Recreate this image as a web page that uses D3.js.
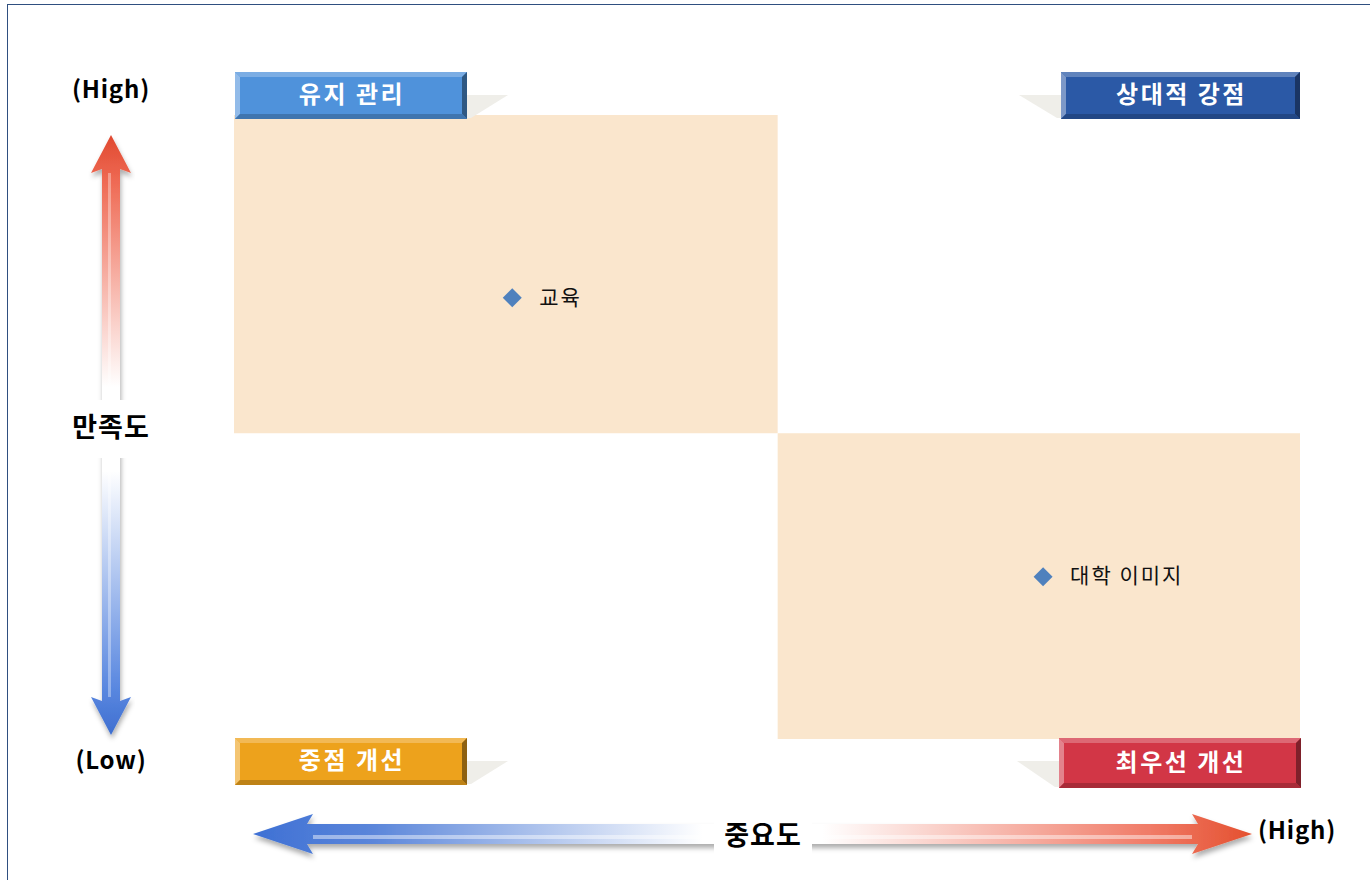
<!DOCTYPE html>
<html><head><meta charset="utf-8">
<script src="https://cdn.jsdelivr.net/npm/d3@7"></script>
<style>
html,body{margin:0;padding:0;background:#fff;}
svg{display:block;font-family:"Noto Sans CJK KR","Noto Sans",sans-serif;}
</style></head>
<body><svg id="c" width="1370" height="880"></svg>
<script>
// ---- data ----
const items = ["교육", "대학 이미지"];
const importance = [3.761, 4.259];     // x: 중요도
const satisfaction = [4.207, 3.760];   // y: 만족도
const xDomain = [3.5, 4.5];
const yDomain = [3.5, 4.5];
const xMid = 4.01, yMid = 3.99;
const quadrantNames = ["유지 관리", "상대적 강점", "중점 개선", "최우선 개선"];
const quadrantColors = ["#4F92DB", "#2B59A6", "#EDA21C", "#D23646"];
const axisTitles = {x: "중요도", y: "만족도", high: "(High)", low: "(Low)"};

const svg = d3.select("#c");
const defs = svg.append("defs");
const W = 1370, H = 880;
const plot = {l: 234, r: 1300, t: 115, b: 739};
const x = d3.scaleLinear().domain(xDomain).range([plot.l, plot.r]);
const y = d3.scaleLinear().domain(yDomain).range([plot.b, plot.t]);

// frame
svg.append("rect").attr("x", 7.5).attr("y", 4.5).attr("width", W + 10).attr("height", H + 10)
  .attr("fill", "none").attr("stroke", "#2F4F80").attr("stroke-width", 1);

// quadrant fills
const fill = "#FAE6CD";
svg.append("rect").attr("x", x(xDomain[0])).attr("y", y(yDomain[1]))
  .attr("width", x(xMid) - x(xDomain[0])).attr("height", y(yMid) - y(yDomain[1])).attr("fill", fill);
svg.append("rect").attr("x", x(xMid)).attr("y", y(yMid))
  .attr("width", x(xDomain[1]) - x(xMid)).attr("height", y(yDomain[0]) - y(yMid)).attr("fill", fill);

// quadrant label boxes (beveled)
function shade(c, k) { return k > 0 ? d3.interpolateRgb(c, "#fff")(k) : d3.interpolateRgb(c, "#000")(-k); }
const boxes = [
  {x0: 235, y0: 72, w: 232, h: 47, side: "right"},
  {x0: 1061, y0: 72, w: 239, h: 47, side: "left"},
  {x0: 235, y0: 738, w: 232, h: 47, side: "right"},
  {x0: 1059, y0: 738, w: 242, h: 50, side: "left"}
];
boxes.forEach((b, i) => {
  const g = svg.append("g");
  const c = quadrantColors[i];
  const sy = b.y0 + 23;
  let pts;
  if (b.side === "right") pts = [[b.x0 + b.w, sy], [b.x0 + b.w + 41, sy], [b.x0 + b.w + 4, b.y0 + b.h - 1], [b.x0 + b.w, b.y0 + b.h - 1]];
  else pts = [[b.x0 - 42, sy], [b.x0, sy], [b.x0, b.y0 + b.h - 1], [b.x0 - 4, b.y0 + b.h - 1]];
  g.append("polygon").attr("points", pts.map(p => p.join(",")).join(" ")).attr("fill", "#EFEEE9");
  const d = 5;
  const X0 = b.x0, Y0 = b.y0, X1 = b.x0 + b.w, Y1 = b.y0 + b.h;
  g.append("rect").attr("x", X0).attr("y", Y0).attr("width", b.w).attr("height", b.h).attr("fill", c);
  const poly = (p, col) => g.append("polygon").attr("points", p.map(q => q.join(",")).join(" ")).attr("fill", col);
  poly([[X0, Y0], [X1, Y0], [X1 - d, Y0 + d], [X0 + d, Y0 + d]], shade(c, 0.25));
  poly([[X0, Y0], [X0 + d, Y0 + d], [X0 + d, Y1 - d], [X0, Y1]], shade(c, 0.38));
  poly([[X1, Y0], [X1, Y1], [X1 - d, Y1 - d], [X1 - d, Y0 + d]], shade(c, -0.4));
  poly([[X0, Y1], [X1, Y1], [X1 - d, Y1 - d], [X0 + d, Y1 - d]], shade(c, -0.2));
  g.append("text").attr("x", X0 + b.w / 2 + 1).attr("y", Y0 + b.h / 2 + 1).attr("text-anchor", "middle")
    .attr("dominant-baseline", "middle").attr("fill", "#fff").attr("font-size", 24).attr("font-weight", 700)
    .attr("letter-spacing", 2.5).text(quadrantNames[i]);
});

// gradients
const vg = defs.append("linearGradient").attr("id", "vg").attr("gradientUnits", "userSpaceOnUse")
  .attr("x1", 0).attr("y1", 135).attr("x2", 0).attr("y2", 735);
[[0, "#E0482F"], [0.08, "#EF6B55"], [0.42, "#FFFFFF"], [0.56, "#FFFFFF"], [0.92, "#5A88E0"], [1, "#3F6FD0"]]
  .forEach(s => vg.append("stop").attr("offset", s[0]).attr("stop-color", s[1]));
const hg = defs.append("linearGradient").attr("id", "hg").attr("gradientUnits", "userSpaceOnUse")
  .attr("x1", 253).attr("y1", 0).attr("x2", 1252).attr("y2", 0);
[[0, "#3E70D4"], [0.12, "#5B86DA"], [0.45, "#FFFFFF"], [0.57, "#FFFFFF"], [0.9, "#F07A66"], [1, "#E4502F"]]
  .forEach(s => hg.append("stop").attr("offset", s[0]).attr("stop-color", s[1]));
const f = defs.append("filter").attr("id", "sh").attr("x", "-10%").attr("y", "-50%").attr("width", "120%").attr("height", "200%");
f.append("feDropShadow").attr("dx", 1).attr("dy", 4).attr("stdDeviation", 2.5).attr("flood-color", "#000").attr("flood-opacity", 0.32);

// vertical arrow (만족도)
const ax = 111;
const vTop = 135, vBot = 735, hw = 20, sw = 9, hl = 38;
const vpath = `M${ax},${vTop} L${ax + hw},${vTop + hl} L${ax + sw},${vTop + hl - 4} L${ax + sw},${vBot - hl + 4} L${ax + hw},${vBot - hl} L${ax},${vBot} L${ax - hw},${vBot - hl} L${ax - sw},${vBot - hl + 4} L${ax - sw},${vTop + hl - 4} L${ax - hw},${vTop + hl} Z`;
svg.append("path").attr("d", vpath).attr("fill", "url(#vg)").attr("filter", "url(#sh)");
svg.append("rect").attr("x", ax - 3).attr("y", vTop + hl).attr("width", 3).attr("height", vBot - vTop - 2 * hl)
  .attr("fill", "#fff").attr("opacity", 0.35);
svg.append("rect").attr("x", 60).attr("y", 400).attr("width", 100).attr("height", 58).attr("fill", "#fff");
svg.append("text").attr("x", ax).attr("y", 430).attr("text-anchor", "middle").attr("dominant-baseline", "middle")
  .attr("font-size", 27).attr("font-weight", 700).attr("letter-spacing", 1).attr("fill", "#000").text(axisTitles.y);
svg.append("text").attr("x", ax).attr("y", 91).attr("text-anchor", "middle").attr("dominant-baseline", "middle")
  .attr("font-size", 24).attr("font-weight", 700).attr("letter-spacing", 0.8).attr("fill", "#000").text(axisTitles.high);
svg.append("text").attr("x", ax).attr("y", 762).attr("text-anchor", "middle").attr("dominant-baseline", "middle")
  .attr("font-size", 24).attr("font-weight", 700).attr("letter-spacing", 0.8).attr("fill", "#000").text(axisTitles.low);

// horizontal arrow (중요도)
const ay = 834, hL = 253, hR = 1252, hh = 20, hs = 10, hlen = 60;
const hpath = `M${hL},${ay} L${hL + hlen},${ay - hh} L${hL + hlen - 6},${ay - hs} L${hR - hlen + 6},${ay - hs} L${hR - hlen},${ay - hh} L${hR},${ay} L${hR - hlen},${ay + hh} L${hR - hlen + 6},${ay + hs} L${hL + hlen - 6},${ay + hs} L${hL + hlen},${ay + hh} Z`;
svg.append("path").attr("d", hpath).attr("fill", "url(#hg)").attr("filter", "url(#sh)");
svg.append("rect").attr("x", hL + hlen).attr("y", ay + 1).attr("width", hR - hL - 2 * hlen).attr("height", 4)
  .attr("fill", "#fff").attr("opacity", 0.45);
svg.append("rect").attr("x", 714).attr("y", 813).attr("width", 98).attr("height", 44).attr("fill", "#fff");
svg.append("text").attr("x", 763).attr("y", 838).attr("text-anchor", "middle").attr("dominant-baseline", "middle")
  .attr("font-size", 27).attr("font-weight", 700).attr("letter-spacing", 1).attr("fill", "#000").text(axisTitles.x);
svg.append("text").attr("x", 1258).attr("y", 832).attr("text-anchor", "start").attr("dominant-baseline", "middle")
  .attr("font-size", 24).attr("font-weight", 700).attr("letter-spacing", 0.8).attr("fill", "#000").text(axisTitles.high);

// points
const sym = d3.symbol().type(d3.symbolDiamond2).size(230);
items.forEach((name, i) => {
  const px = x(importance[i]), py = y(satisfaction[i]);
  svg.append("path").attr("d", sym()).attr("transform", `translate(${px},${py})`)
    .attr("fill", "#4F81BD");
  svg.append("text").attr("x", px + 27).attr("y", py + 1).attr("dominant-baseline", "middle")
    .attr("font-size", 21).attr("letter-spacing", 2).attr("fill", "#111").text(name);
});
</script></body></html>
